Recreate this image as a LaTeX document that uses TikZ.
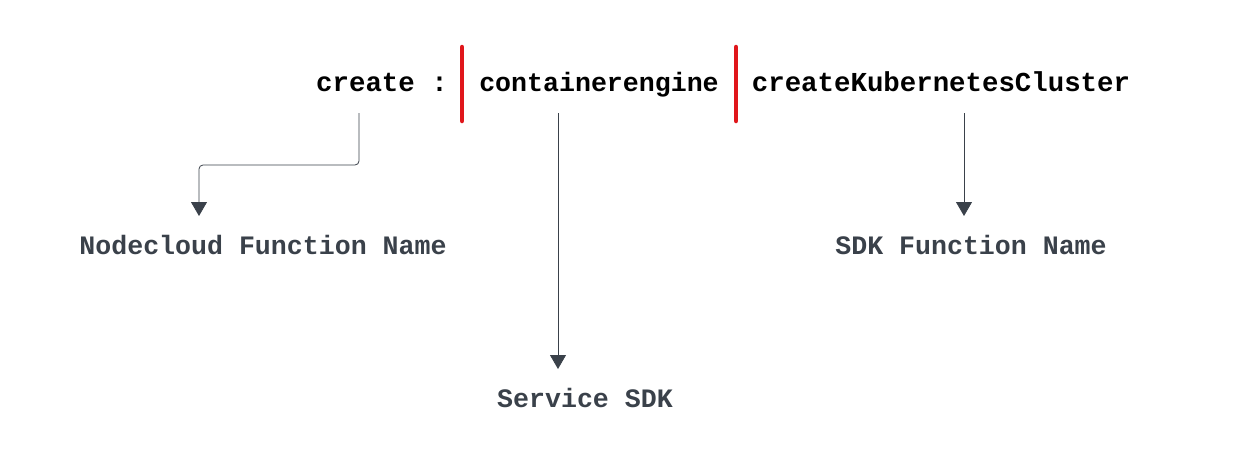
\documentclass[tikz,border=0pt]{standalone}
\usepackage{fontspec}
\setmonofont{Liberation Mono}
\usepackage{xcolor}
\usetikzlibrary{arrows.meta}
\definecolor{labelgray}{HTML}{3A414A}
\definecolor{barred}{HTML}{E0161B}

\begin{document}
\begin{tikzpicture}[
  x=1pt, y=-1pt,
  part/.style={anchor=base, inner sep=0pt, font=\ttfamily\bfseries\fontsize{27.4}{30}\selectfont, text=black},
  label/.style={anchor=base, inner sep=0pt, font=\ttfamily\bfseries\fontsize{26.6}{30}\selectfont, text=labelgray},
  bar/.style={draw=barred, line width=4.5pt, line cap=round},
  link/.style={draw=labelgray, line width=0.8pt, rounded corners=4pt, -{Triangle[length=14pt, width=16pt]}}
]
\useasboundingbox (0,0) rectangle (1238,461);
% top line
\node[part] (create) at (382,91) {create :};
\node[part, font=\ttfamily\bfseries\fontsize{26.6}{30}\selectfont] (service) at (599,91) {containerengine};
\node[part] (sdkfn) at (941,91) {createKubernetesCluster};
\draw[bar] (462,47) -- (462,121);
\draw[bar] (736,47) -- (736,121);
% labels
\node[label] (nodecloud) at (263,254) {Nodecloud Function Name};
\node[label] (servicesdk) at (585,407) {Service SDK};
\node[label] (sdkname) at (971,254) {SDK Function Name};
% arrows
\coordinate (a1) at (359,113);
\coordinate (a2) at (558,113);
\coordinate (a3) at (964,113);
\draw[link] (a1) -- (359,165) -- (199,165) -- (199,216);
\draw[link] (a2) -- (558,369);
\draw[link] (a3) -- (964,216);
\end{tikzpicture}
\end{document}
